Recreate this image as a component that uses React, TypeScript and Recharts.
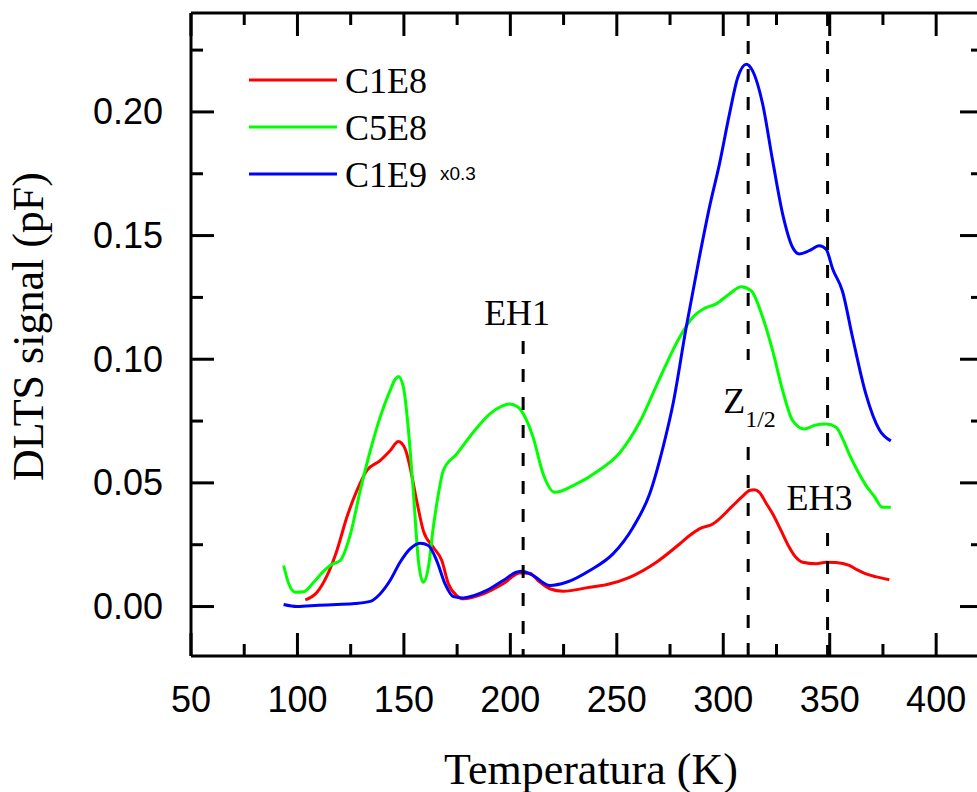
import { LineChart, Line, XAxis, YAxis, ReferenceLine, ReferenceDot, Legend } from 'recharts'

// temperature (K) / DLTS signal (pF)
const c1e8Temp = [103.7, 109.2, 113.9, 118.5, 123.2, 127.9, 132.6, 138.8, 143.5, 147.4, 150.6, 152.9, 156, 159.1, 163.8, 167.8, 170.9, 174.8, 177.9, 187.3, 196.6, 204.5, 209.2, 213, 218.5, 224.8, 237.3, 245, 256, 268.6, 279.5, 284.2, 288.8, 295.1, 304.5, 309, 312.3, 314.5, 317, 320, 323.2, 327, 331, 334, 337.3, 343.6, 348.3, 353, 359.2, 363, 367, 372, 378]
const c1e8Signal = [0.0027, 0.0058, 0.0125, 0.0226, 0.0361, 0.0469, 0.055, 0.059, 0.063, 0.0667, 0.0637, 0.0563, 0.0428, 0.0307, 0.024, 0.0186, 0.0092, 0.0044, 0.0031, 0.0051, 0.0092, 0.0136, 0.0135, 0.0105, 0.0072, 0.0062, 0.0078, 0.0088, 0.0118, 0.0179, 0.0253, 0.0287, 0.0314, 0.0334, 0.0408, 0.0445, 0.0469, 0.0472, 0.0462, 0.042, 0.0375, 0.031, 0.024, 0.02, 0.0179, 0.0173, 0.0179, 0.0178, 0.0166, 0.0148, 0.0132, 0.012, 0.0108]

const c5e8Temp = [93.5, 96, 99, 102.9, 107.6, 112.3, 116, 120, 124.8, 129.5, 134.2, 138.8, 143.5, 146, 147.4, 149.8, 152, 154.5, 156.8, 159.1, 161.5, 163.8, 166.2, 168.5, 174.8, 182.6, 190.4, 196, 199.5, 203.7, 206, 210.7, 215.4, 220.9, 229.5, 242, 251.4, 260.7, 270, 279.5, 285.7, 291, 296.7, 302.9, 308.4, 313.1, 318.5, 323.2, 327.9, 332.6, 338.1, 343, 348.3, 353, 356, 359.5, 363, 367, 371, 374.8, 378.7]
const c5e8Signal = [0.0166, 0.009, 0.0058, 0.006, 0.0098, 0.0143, 0.017, 0.0186, 0.029, 0.047, 0.063, 0.0765, 0.0873, 0.092, 0.093, 0.0886, 0.0725, 0.0455, 0.0186, 0.0098, 0.0159, 0.032, 0.0455, 0.055, 0.0617, 0.0705, 0.0779, 0.081, 0.0819, 0.0806, 0.078, 0.0684, 0.0536, 0.0462, 0.0489, 0.0553, 0.0622, 0.0745, 0.092, 0.1089, 0.117, 0.1205, 0.1224, 0.1264, 0.1293, 0.1277, 0.117, 0.1035, 0.0873, 0.0752, 0.0718, 0.0733, 0.0738, 0.0725, 0.068, 0.061, 0.055, 0.049, 0.0445, 0.0401, 0.0401]

// C1E9 already scaled x0.3
const c1e9Temp = [93.5, 99.8, 110, 118.5, 127, 134.2, 138.8, 143.5, 148.2, 152.9, 157.6, 161.5, 165.4, 169.3, 173.2, 177.9, 188.9, 196.6, 202.9, 205.3, 210.7, 218.5, 226.3, 237.3, 248.2, 257.6, 265.4, 271.7, 276.4, 282.6, 288.8, 293.5, 298.2, 302.9, 306.8, 310.8, 313.8, 318.5, 323.2, 327.9, 332.6, 335.7, 340.4, 345.1, 348.3, 351.4, 356, 360.7, 367, 373.3, 378.7]
const c1e9Signal = [0.0008, 0, 0.0005, 0.0008, 0.0012, 0.0021, 0.0051, 0.0105, 0.0179, 0.0233, 0.0256, 0.0247, 0.0186, 0.0092, 0.004, 0.0035, 0.0065, 0.0105, 0.0139, 0.0143, 0.0125, 0.0085, 0.0098, 0.0146, 0.0213, 0.032, 0.0455, 0.0644, 0.0819, 0.1129, 0.1413, 0.1614, 0.1789, 0.1991, 0.2139, 0.2193, 0.2166, 0.2032, 0.1803, 0.1587, 0.1452, 0.1426, 0.1439, 0.1459, 0.1445, 0.1365, 0.1275, 0.109, 0.0859, 0.0715, 0.067]

const tempTicks = [50, 75, 100, 125, 150, 175, 200, 225, 250, 275, 300, 325, 350, 375, 400]
const signalTicks = [0, 0.025, 0.05, 0.075, 0.1, 0.125, 0.15, 0.175, 0.2, 0.225]

// trap levels: name, temperature
const trapNames = ['EH1', 'Z', 'EH3']
const trapTemps = [206, 311.7, 349]

const toPoints = (t: number[], v: number[]) => t.map((T, i) => ({ T, v: v[i] }))

const series = [
  { name: 'C1E8', color: '#ff0000', data: toPoints(c1e8Temp, c1e8Signal) },
  { name: 'C5E8', color: '#00ff00', data: toPoints(c5e8Temp, c5e8Signal) },
  { name: 'C1E9', color: '#0000ff', data: toPoints(c1e9Temp, c1e9Signal) },
]

const SERIF = '"Liberation Serif", "Times New Roman", serif'
const SANS = '"Liberation Sans", Arial, sans-serif'
const serifStyle = { fontFamily: SERIF }
const sansStyle = { fontFamily: SANS }
const MAJOR = 23
const MINOR = 12

const majorT = (v: number) => v % 50 === 0
const majorS = (v: number) => Math.round(v * 1000) % 50 === 0

function BottomTick(p: any) {
  const major = majorT(p.payload.value)
  return (
    <g>
      <line x1={p.x} x2={p.x} y1={p.y} y2={p.y - (major ? MAJOR : MINOR)} stroke="#000" strokeWidth={3} />
      {major && (
        <text x={p.x} y={p.y + 56} textAnchor="middle" style={sansStyle} fontSize={36} fill="#000">
          {p.payload.value}
        </text>
      )}
    </g>
  )
}

function TopTick(p: any) {
  const major = majorT(p.payload.value)
  return <line x1={p.x} x2={p.x} y1={p.y} y2={p.y + (major ? MAJOR : MINOR)} stroke="#000" strokeWidth={3} />
}

function LeftTick(p: any) {
  const major = majorS(p.payload.value)
  return (
    <g>
      <line x1={p.x} x2={p.x + (major ? MAJOR : MINOR)} y1={p.y} y2={p.y} stroke="#000" strokeWidth={3} />
      {major && (
        <text x={p.x - 28} y={p.y + 12.5} textAnchor="end" style={sansStyle} fontSize={36} fill="#000">
          {p.payload.value.toFixed(2)}
        </text>
      )}
    </g>
  )
}

function RightTick(p: any) {
  const major = majorS(p.payload.value)
  return <line x1={p.x} x2={p.x - (major ? MAJOR : MINOR)} y1={p.y} y2={p.y} stroke="#000" strokeWidth={3} />
}

function LegendBox() {
  return (
    <svg width={300} height={140}>
      {series.map((s, i) => (
        <g key={s.name}>
          <line x1={0} x2={88} y1={20 + 47 * i} y2={20 + 47 * i} stroke={s.color} strokeWidth={3} />
          <text x={96} y={33 + 47 * i} style={serifStyle} fontSize={36} fill="#000">
            {s.name}
          </text>
        </g>
      ))}
      <text x={191} y={120} style={sansStyle} fontSize={19} fill="#000">x0.3</text>
    </svg>
  )
}

const dashProps = { stroke: '#000', strokeWidth: 3, strokeDasharray: '13 15' }

export default function App() {
  return (
    <div style={{ position: 'fixed', left: 0, top: 0, width: 977, height: 792, overflow: 'hidden', background: '#fff' }}>
      <LineChart width={993} height={792} margin={{ top: 0, right: 0, bottom: 0, left: 0 }}>
        <XAxis
          dataKey="T"
          type="number"
          domain={[50, 422]}
          ticks={tempTicks}
          interval={0}
          height={136}
          tickSize={0}
          tickMargin={0}
          tickLine={false}
          axisLine={{ stroke: '#000', strokeWidth: 3 }}
          tick={(p: any) => <BottomTick {...p} />}
          allowDataOverflow
          label={{
            content: (props: any) => {
              const vb = props.viewBox
              return (
                <text x={vb.x + vb.width / 2 + 4} y={vb.y + vb.height - 8} textAnchor="middle" style={serifStyle} fontSize={44} fill="#000">
                  Temperatura (K)
                </text>
              )
            },
          }}
        />
        <XAxis
          xAxisId="top"
          orientation="top"
          dataKey="T"
          type="number"
          domain={[50, 422]}
          ticks={tempTicks}
          interval={0}
          height={13}
          tickSize={0}
          tickMargin={0}
          tickLine={false}
          axisLine={{ stroke: '#000', strokeWidth: 3 }}
          tick={(p: any) => <TopTick {...p} />}
          allowDataOverflow
        />
        <YAxis
          type="number"
          domain={[-0.02, 0.24]}
          ticks={signalTicks}
          interval={0}
          width={191}
          tickSize={0}
          tickMargin={0}
          tickLine={false}
          axisLine={{ stroke: '#000', strokeWidth: 3 }}
          tick={(p: any) => <LeftTick {...p} />}
          allowDataOverflow
          label={{
            content: (props: any) => {
              const vb = props.viewBox
              const cx = vb.x + 43
              const cy = vb.y + vb.height / 2 - 8
              return (
                <text x={cx} y={cy} transform={`rotate(-90 ${cx} ${cy})`} textAnchor="middle" style={serifStyle} fontSize={44} fill="#000">
                  DLTS signal (pF)
                </text>
              )
            },
          }}
        />
        <YAxis
          yAxisId="right"
          orientation="right"
          type="number"
          domain={[-0.02, 0.24]}
          ticks={signalTicks}
          interval={0}
          width={10}
          tickSize={0}
          tickMargin={0}
          tickLine={false}
          axisLine={{ stroke: '#000', strokeWidth: 3 }}
          tick={(p: any) => <RightTick {...p} />}
          allowDataOverflow
        />
        <Legend
          layout="horizontal"
          verticalAlign="middle"
          align="center"
          content={() => <LegendBox />}
          wrapperStyle={{ left: 249, top: 60, width: 300, height: 140 }}
        />
        {series.map((s) => (
          <Line
            key={s.name}
            data={s.data}
            dataKey="v"
            name={s.name}
            type="monotone"
            stroke={s.color}
            strokeWidth={3}
            dot={false}
            activeDot={false}
            isAnimationActive={false}
          />
        ))}
        {/* EH1 */}
        <ReferenceLine segment={[{ x: trapTemps[0], y: 0.1074 }, { x: trapTemps[0], y: -0.02 }]} {...dashProps} />
        {/* Z1/2, broken around its label */}
        <ReferenceLine segment={[{ x: trapTemps[1], y: 0.24 }, { x: trapTemps[1], y: 0.0997 }]} {...dashProps} />
        <ReferenceLine segment={[{ x: trapTemps[1], y: 0.0645 }, { x: trapTemps[1], y: -0.02 }]} {...dashProps} />
        {/* EH3, broken around its label */}
        <ReferenceLine segment={[{ x: trapTemps[2], y: 0.24 }, { x: trapTemps[2], y: 0.0645 }]} {...dashProps} />
        <ReferenceLine segment={[{ x: trapTemps[2], y: 0.0297 }, { x: trapTemps[2], y: -0.02 }]} {...dashProps} />

        <ReferenceDot
          x={trapTemps[0]}
          y={0.1074}
          r={0}
          fill="none"
          stroke="none"
          label={{
            content: (props: any) => (
              <text x={props.viewBox.x - 6} y={props.viewBox.y - 16} textAnchor="middle" style={serifStyle} fontSize={36} fill="#000">
                {trapNames[0]}
              </text>
            ),
          }}
        />
        <ReferenceDot
          x={trapTemps[1]}
          y={0.0997}
          r={0}
          fill="none"
          stroke="none"
          label={{
            content: (props: any) => (
              <text x={props.viewBox.x - 25} y={props.viewBox.y + 53} style={serifStyle} fontSize={36} fill="#000">
                {trapNames[1]}
                <tspan fontSize={24} dy={14}>1/2</tspan>
              </text>
            ),
          }}
        />
        <ReferenceDot
          x={trapTemps[2]}
          y={0.0645}
          r={0}
          fill="none"
          stroke="none"
          label={{
            content: (props: any) => (
              <text x={props.viewBox.x - 8} y={props.viewBox.y + 63} textAnchor="middle" style={serifStyle} fontSize={36} fill="#000">
                {trapNames[2]}
              </text>
            ),
          }}
        />
      </LineChart>
    </div>
  )
}
